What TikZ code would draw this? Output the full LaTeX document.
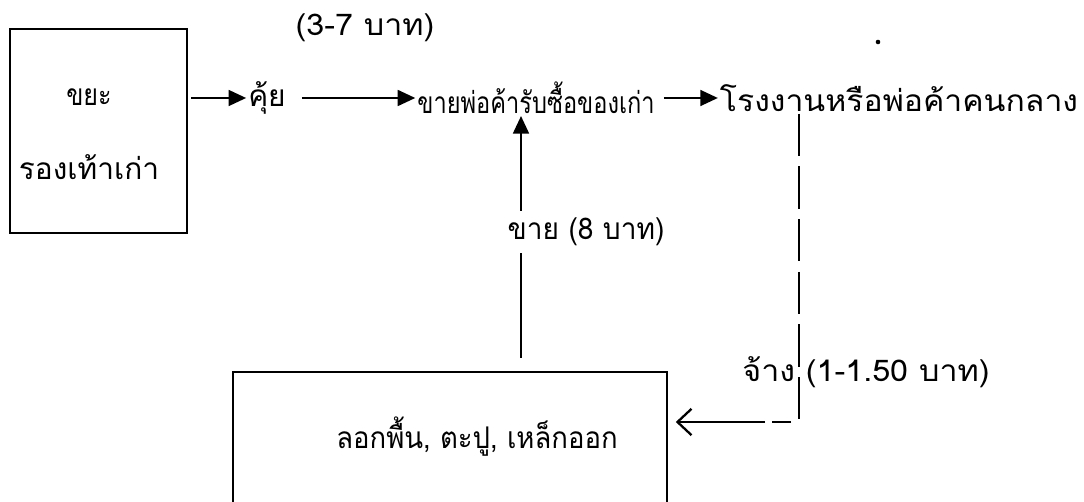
\documentclass[tikz,border=0pt]{standalone}
\usepackage{fontspec}
\usepackage{graphicx}
\newfontfamily\thaifont[Script=Thai]{Loma}
\usetikzlibrary{arrows.meta}
\newcommand{\widen}[2]{\scalebox{#1}[1]{#2}}
\tikzset{%
  frame/.style = {draw, line width=0.7pt},%
  box/.style   = {shape=rectangle, frame},%
  lbl/.style   = {font=\thaifont\fontsize{17}{20}\selectfont, inner sep=1pt},%
  flow/.style  = {line width=1.3pt, -{Triangle[length=10pt,width=9pt]}},%
  back/.style  = {line width=1.3pt, -{Straight Barb[length=8pt,width=15pt]}},%
  hire/.style  = {line width=0.8pt, dash pattern=on 24pt off 6pt}%
}

\begin{document}
\begin{tikzpicture}[x=0.02cm,y=-0.02cm]
	\useasboundingbox (0,0) rectangle (1084,502);
	% old shoes
	\node[box, minimum width=3.54cm, minimum height=4.08cm] (waste) at (98.5,131) {};
	\node[lbl] (waste1) at (89,97) {\widen{0.84}{ขยะ}};
	\node[lbl] (waste2) at (89,167) {รองเท้าเก่า};
	% top row
	\node[lbl] (dig) at (267,98) {คุ้ย};
	\node[lbl] (buyer) at (536,98) {\widen{0.79}{ขายพ่อค้ารับซื้อของเก่า}};
	\node[lbl] (factory) at (899,98) {\widen{1.07}{โรงงานหรือพ่อค้าคนกลาง}};
	\node[lbl] (price) at (365,28) {\widen{1.08}{(3-7 บาท)}};
	\fill (878,42) circle (1.3pt);
	\draw[flow, shorten <=2pt] (waste.east |- dig) -- (dig.west);
	\draw[flow, shorten <=8pt] (dig.east) -- (buyer.west);
	\draw[flow, shorten <=4pt] (buyer.east) -- (factory.west);
	% stripping box, cut by the page
	\coordinate (stripSW) at (233,502);
	\coordinate (stripSE) at (667,502);
	\draw[frame] (stripSW) |- (stripSE |- 0,372) -- (stripSE);
	\node[lbl] (strip) at (477,437) {\widen{0.92}{ลอกพื้น, ตะปู, เหล็กออก}};
	% sell back up
	\coordinate (sellfoot) at (521,358);
	\draw[flow] (sellfoot) -- (sellfoot |- buyer.south);
	\node[lbl, fill=white, inner sep=4pt] (sell) at (586,232) {\widen{0.94}{ขาย (8 บาท)}};
	% hired labour
	\coordinate (hirecorner) at (799,422);
	\coordinate (hireend) at (772,422);
	\coordinate (hirestart) at (765,422);
	\coordinate (stripE) at (667,422);
	\draw[hire] (factory.south -| hirecorner) -- (hirecorner) -- (hireend);
	\draw[back, shorten >=5pt] (hirestart) -- (stripE);
	\node[lbl] (wage) at (866,372) {\widen{1.08}{จ้าง (1-1.50 บาท)}};
\end{tikzpicture}
\end{document}
